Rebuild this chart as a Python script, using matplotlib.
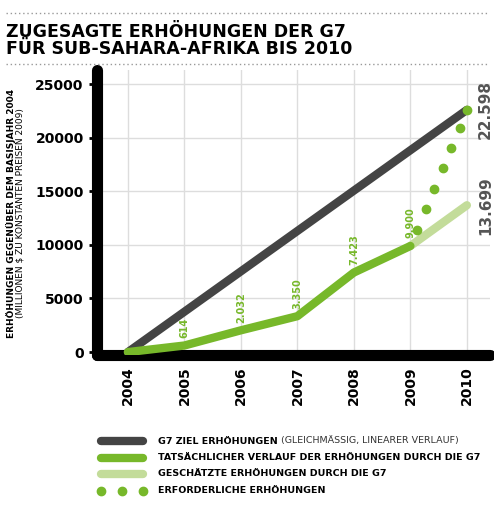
import matplotlib.pyplot as plt
from matplotlib.lines import Line2D

years = [2004, 2005, 2006, 2007, 2008, 2009, 2010]
target = [0, 22598]
actual = [0, 614, 2032, 3350, 7423, 9900]
estimated = [9900, 13699]
required = [9900, 22598]
actual_labels = ["614", "2.032", "3.350", "7.423", "9.900"]

dark = "#444444"
green = "#77b82a"
light = "#c3dc9a"

plt.rcParams["font.family"] = "DejaVu Sans"
fig = plt.figure(figsize=(4.94, 5.08), dpi=100)
ax = fig.add_axes([0.196, 0.301, 0.796, 0.561])

ax.set_xlim(2003.45, 2010.41)
ax.set_ylim(-280, 26306)
ax.set_xticks(years)
ax.set_xticklabels([str(y) for y in years], rotation=90, fontsize=10, fontweight="bold")
ax.set_yticks([0, 5000, 10000, 15000, 20000, 25000])
ax.set_yticklabels(["0", "5000", "10000", "15000", "20000", "25000"], fontsize=10, fontweight="bold")
ax.grid(True, color="#dddddd", linewidth=1)
ax.tick_params(axis="y", length=6, width=2, color="black")
ax.tick_params(axis="x", length=0, pad=8)
for s in ["top", "right"]:
    ax.spines[s].set_visible(False)
ax.spines["left"].set_linewidth(8)
ax.spines["bottom"].set_linewidth(8)
ax.spines["left"].set_capstyle("round")
ax.spines["bottom"].set_capstyle("round")

ax.plot([2004, 2010], target, color=dark, lw=6, solid_capstyle="round", zorder=3)
ax.plot(years[:6], actual, color=green, lw=6, solid_capstyle="round", zorder=4)
ax.plot([2009, 2010], estimated, color=light, lw=6, solid_capstyle="round", zorder=3)
steps = [0.12, 0.27, 0.42, 0.57, 0.72, 0.87, 1.0]
ax.plot([2009 + t for t in steps],
        [required[0] + (required[1] - required[0]) * t for t in steps],
        color=green, lw=0, marker="o", ms=6, zorder=5)

for x, v, lab in zip(years[1:6], actual[1:], actual_labels):
    ax.text(x, v + 700, lab, rotation=90, color=green, fontsize=7, fontweight="bold",
            ha="center", va="bottom")
ax.text(2010.2, 22598, "22.598", rotation=90, color="#555555", fontsize=11,
        fontweight="bold", ha="left", va="center")
ax.text(2010.2, 13699, "13.699", rotation=90, color="#555555", fontsize=11,
        fontweight="bold", ha="left", va="center")

fig.text(0.012, 0.58, "ERHÖHUNGEN GEGENÜBER DEM BASISJAHR 2004", rotation=90,
         fontsize=6.5, fontweight="bold", ha="left", va="center")
fig.text(0.032, 0.58, "(MILLIONEN $ ZU KONSTANTEN PREISEN 2009)", rotation=90,
         fontsize=6.5, ha="left", va="center")

fig.text(0.012, 0.955, "ZUGESAGTE ERHÖHUNGEN DER G7\nFÜR SUB-SAHARA-AFRIKA BIS 2010",
         fontsize=12.5, fontweight="heavy", ha="left", va="top", linespacing=0.95)
for yy in [0.975, 0.875]:
    fig.add_artist(Line2D([0.012, 0.99], [yy, yy], color="#999999", lw=1, ls=(0, (1, 2))))

# legend
items = [(dark, "-", "G7 ZIEL ERHÖHUNGEN", " (GLEICHMÄSSIG, LINEARER VERLAUF)"),
         (green, "-", "TATSÄCHLICHER VERLAUF DER ERHÖHUNGEN DURCH DIE G7", ""),
         (light, "-", "GESCHÄTZTE ERHÖHUNGEN DURCH DIE G7", ""),
         (green, ":", "ERFORDERLICHE ERHÖHUNGEN", "")]
for i, (c, ls, bold, rest) in enumerate(items):
    y = 1 - (441 + i * 16.5) / 508
    if ls == "-":
        fig.add_artist(Line2D([0.205, 0.29], [y, y], color=c, lw=6, solid_capstyle="round"))
    else:
        for xx in [0.205, 0.247, 0.29]:
            fig.add_artist(Line2D([xx], [y], color=c, marker="o", ms=6, lw=0))
    t = fig.text(0.32, y, bold, fontsize=6.8, fontweight="bold", ha="left", va="center")
    if rest:
        fig.canvas.draw()
        bb = t.get_window_extent()
        fig.text(bb.x1 / fig.bbox.width, y, rest, fontsize=6.8, ha="left", va="center",
                 color="#333333")

fig.savefig("out.png", dpi=100)
